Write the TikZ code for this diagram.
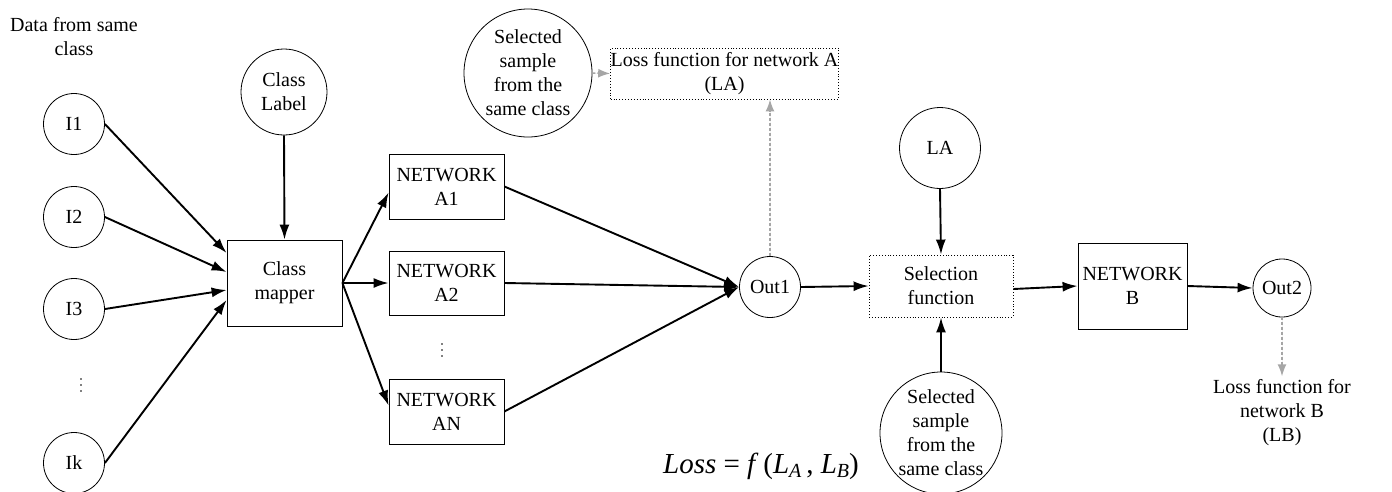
\documentclass[tikz,border=0pt]{standalone}
\usepackage{fontspec}
\setmainfont{Liberation Serif}
\usetikzlibrary{arrows.meta,calc}
\begin{document}
\begin{tikzpicture}[x=1pt,y=-1pt,
  every node/.style={font=\fontsize{20}{24}\selectfont, align=center},
  circ/.style={draw, circle, line width=0.8pt, inner sep=0pt},
  boxn/.style={draw, rectangle, line width=0.8pt, inner sep=0pt},
  dbox/.style={draw, rectangle, dotted, line width=0.9pt, inner sep=0pt},
  arr/.style={-{Latex[length=15pt,width=10pt]}, line width=1.9pt},
  garr/.style={-{Latex[length=12pt,width=9pt]}, dash pattern=on 3pt off 2pt, draw=black!35, fill=black!35, line width=1.5pt},
  dotc/.style={circle, fill=black, inner sep=0pt, minimum size=1.8pt}
]
\useasboundingbox (0,0) rectangle (1392,491);

% left inputs
\node (data) at (74,37) {Data from same\\class};
\node[circ, minimum size=61pt] (i1) at (74,124) {I1};
\node[circ, minimum size=61pt] (i2) at (74,217) {I2};
\node[circ, minimum size=61pt] (i3) at (74,309) {I3};
\foreach \yy [count=\k] in {379,385,391} \node[dotc] (id\k) at (81,\yy) {};
\node[circ, minimum size=61pt] (ik) at (74,463) {Ik};

\node[circ, minimum size=86pt] (cl) at (284,92) {Class\\Label};
\node[boxn, minimum width=115pt, minimum height=86pt] (cm) at (284.5,283) {Class\\mapper};

% networks A
\node[boxn, minimum width=115pt, minimum height=65pt] (a1) at (446.5,186.5) {NETWORK\\A1};
\node[boxn, minimum width=115pt, minimum height=64pt] (a2) at (446.5,283) {NETWORK\\A2};
\foreach \yy [count=\k] in {344,350,356} \node[dotc] (ad\k) at (442,\yy) {};
\node[boxn, minimum width=115pt, minimum height=65pt] (an) at (446.5,411.5) {NETWORK\\AN};

% top
\node[circ, minimum size=128pt] (sel1) at (528,73) {Selected\\sample\\from the\\same class};
\node[dbox, minimum width=207pt, minimum height=51pt] (lossA) at (724.5,73.5) {Loss function for network A\\(LA)};

\node[circ, minimum size=61pt] (out1) at (770,287) {Out1};

% selection part
\node[circ, minimum size=81pt] (la) at (940,148) {LA};
\node[dbox, minimum width=144pt, minimum height=62pt] (sf) at (941,286) {Selection\\function};
\node[circ, minimum size=122pt] (sel2) at (941,433) {Selected\\sample\\from the\\same class};
\node[boxn, minimum width=109pt, minimum height=86pt] (nb) at (1132.5,286) {NETWORK\\B};
\node[circ, minimum size=58pt] (out2) at (1282,288) {Out2};
\node (lossB) at (1282,413) {Loss function for\\network B\\(LB)};

\node[font=\fontsize{29}{32}\selectfont] (formula) at (761,466) {\textit{Loss} = \textit{f}\,(\textit{L}\raisebox{-0.35ex}{\fontsize{20}{20}\selectfont\textit{A}}\,, \textit{L}\raisebox{-0.35ex}{\fontsize{20}{20}\selectfont\textit{B}})};

% connectors
\draw[arr] (i1.east) -- ([yshift=30pt]cm.west);
\draw[arr] (i2.east) -- ([yshift=11pt]cm.west);
\draw[arr] (i3.east) -- ([yshift=-7pt]cm.west);
\draw[arr] (ik.east) -- ([yshift=-17pt]cm.west);
\draw[arr] (cl.south) -- (cm.north);

\draw[arr] (cm.east) -- ([yshift=-6pt]a1.west);
\draw[arr] (cm.east) -- (a2.west);
\draw[arr] (cm.east) -- ([yshift=6pt]an.west);

\draw[arr] (a1.east) -- (out1.west);
\draw[arr] (a2.east) -- (out1.west);
\draw[arr] (an.east) -- (out1.west);

\draw[garr] (sel1.east) -- (lossA.west);
\draw[garr] (out1.north) -- (out1.north |- lossA.south);

\draw[arr] (out1.east) -- (sf.west);
\draw[arr] (la.south) -- (sf.north);
\draw[arr] (sel2.north) -- (sf.south);
\draw[arr] ([yshift=-3pt]sf.east) -- (nb.west);
\draw[arr] (nb.east) -- (out2.west);
\draw[garr] (out2.south) -- (lossB.north);
\end{tikzpicture}
\end{document}
